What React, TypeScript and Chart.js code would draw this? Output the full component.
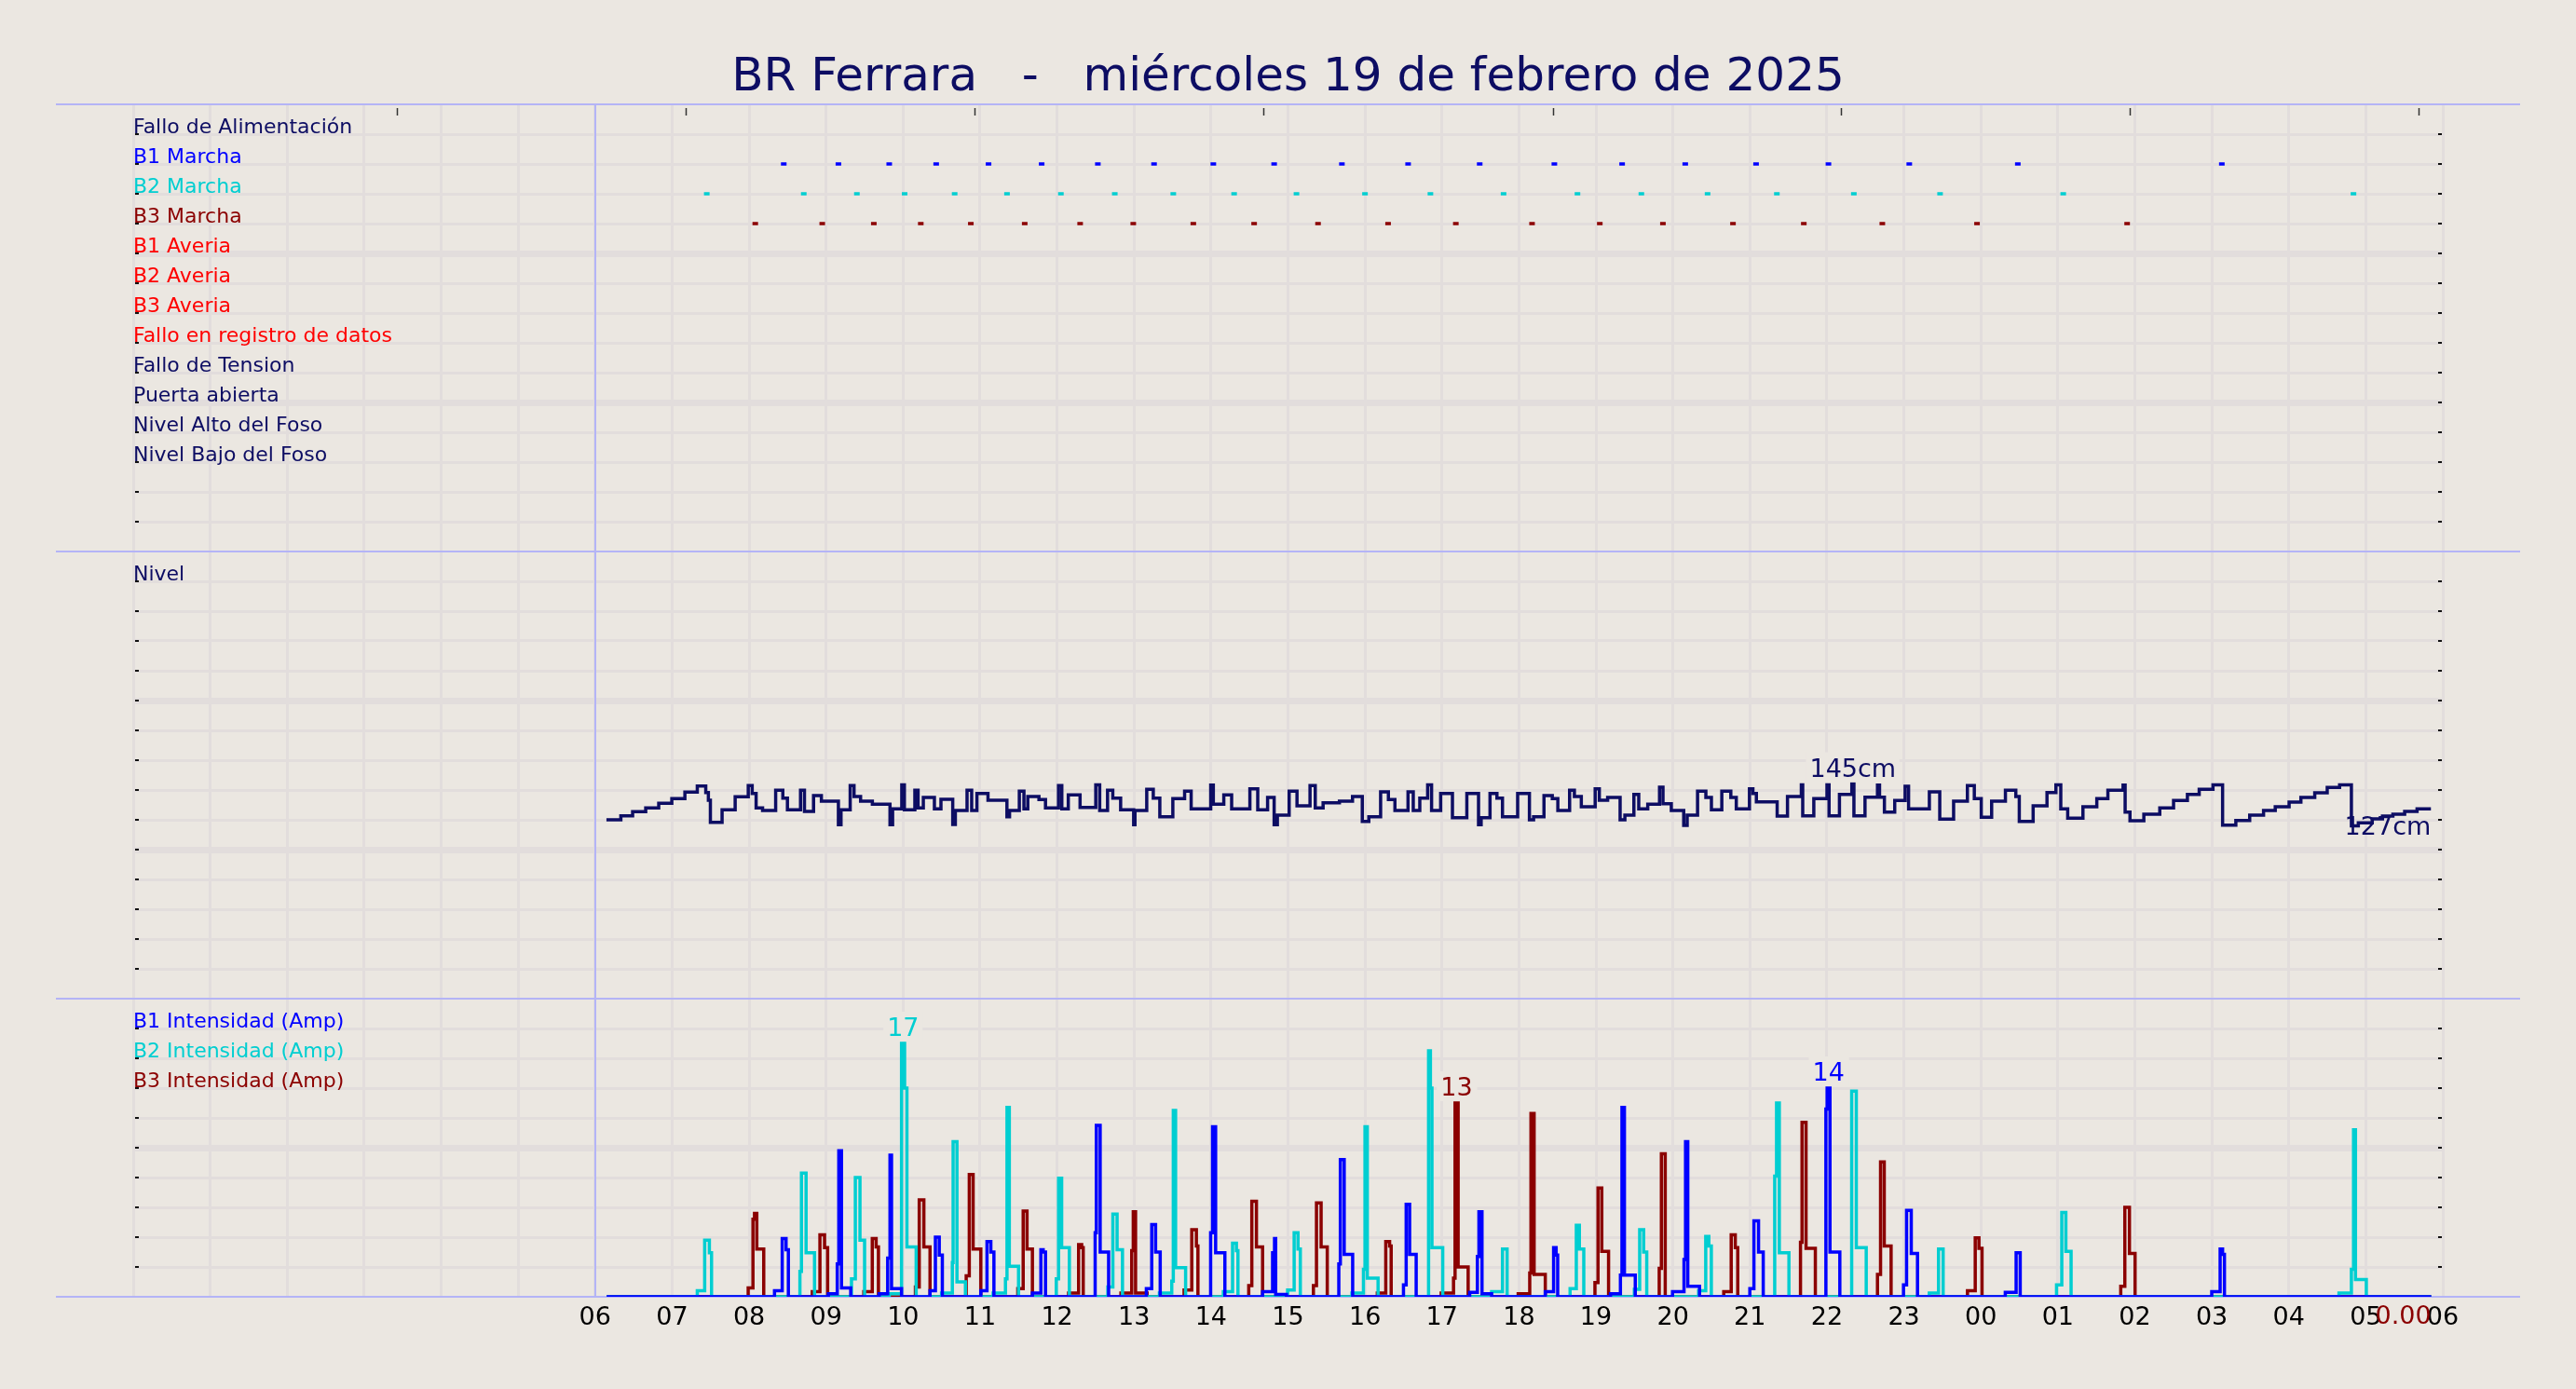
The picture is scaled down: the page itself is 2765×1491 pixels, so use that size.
import React, { useEffect, useRef } from 'react';
import { Chart, registerables } from 'chart.js';

Chart.register(...registerables);
Chart.defaults.font.family = "'DejaVu Sans'";

const TITLE = 'BR Ferrara   -   miércoles 19 de febrero de 2025';

const NAVY = '#0d0d63';
const BLUE = '#0000ff';
const CYAN = '#00ced1';
const DARKRED = '#8b0000';
const RED = '#ff0000';
const BG = '#ebe7e1';
const GRID = '#e2dddc';
const SEP = '#b4b4f6';

const eventLabels = [
  'Fallo de Alimentación', 'B1 Marcha', 'B2 Marcha', 'B3 Marcha', 'B1 Averia', 'B2 Averia',
  'B3 Averia', 'Fallo en registro de datos', 'Fallo de Tension', 'Puerta abierta',
  'Nivel Alto del Foso', 'Nivel Bajo del Foso',
];
const eventColors = [NAVY, BLUE, CYAN, DARKRED, RED, RED, RED, RED, NAVY, NAVY, NAVY, NAVY];
const levelLabel = 'Nivel';
const ampLabels = ['B1 Intensidad (Amp)', 'B2 Intensidad (Amp)', 'B3 Intensidad (Amp)'];
const ampColors = [BLUE, CYAN, DARKRED];

const xTickLabels = ['', '', '', '', '', '', '06', '07', '08', '09', '10', '11', '12', '13', '14', '15',
  '16', '17', '18', '19', '20', '21', '22', '23', '00', '01', '02', '03', '04', '05', '06'];
const topTickHours = [3.43, 7.18, 10.93, 14.68, 18.44, 22.18, 25.93, 29.68];
const dayStartHour = 6;

const LEVEL_MIN = 52.8;
const LEVEL_MAX = 244.8;
const AMP_MAX = 20;

const b1Marcha = [8.45, 9.16, 9.82, 10.43, 11.11, 11.80, 12.53, 13.26, 14.03, 14.82, 15.70, 16.56, 17.49, 18.46, 19.34, 20.16, 21.08, 22.02, 23.07, 24.48, 27.13];
const b2Marcha = [7.45, 8.71, 9.40, 10.02, 10.67, 11.35, 12.05, 12.75, 13.51, 14.30, 15.11, 16.00, 16.85, 17.80, 18.76, 19.59, 20.45, 21.35, 22.35, 23.47, 25.07, 28.84];
const b3Marcha = [8.08, 8.95, 9.62, 10.23, 10.88, 11.58, 12.30, 12.99, 13.77, 14.56, 15.39, 16.30, 17.18, 18.17, 19.05, 19.87, 20.78, 21.70, 22.72, 23.95, 25.90];

const levelData: [number, number][] = [
  [6.147, 129.6], [6.334, 131.3], [6.487, 133.1], [6.657, 134.7], [6.826, 136.7], [6.996, 138.7], [7.166, 141.5], [7.327, 144.1],
  [7.437, 141.3], [7.471, 138.0], [7.497, 128.5], [7.649, 133.9], [7.819, 139.5], [7.989, 144.3], [8.040, 140.9], [8.091, 134.7],
  [8.175, 133.6], [8.345, 142.3], [8.438, 138.9], [8.498, 133.9], [8.668, 142.3], [8.719, 133.2], [8.837, 140.0], [8.939, 137.6],
  [9.160, 127.5], [9.194, 133.9], [9.313, 144.3], [9.363, 139.6], [9.448, 137.6], [9.601, 136.3], [9.830, 127.5], [9.864, 134.3],
  [9.983, 144.6], [10.017, 133.9], [10.153, 142.3], [10.195, 134.7], [10.263, 139.2], [10.407, 134.3], [10.492, 138.4], [10.645, 127.6],
  [10.679, 133.6], [10.831, 142.3], [10.891, 133.6], [10.959, 140.9], [11.103, 138.0], [11.349, 130.9], [11.383, 133.6], [11.510, 141.9],
  [11.570, 134.3], [11.620, 139.6], [11.765, 138.3], [11.850, 134.7], [12.019, 144.3], [12.062, 134.3], [12.146, 140.3], [12.299, 134.9],
  [12.503, 144.6], [12.554, 133.6], [12.656, 142.3], [12.724, 138.9], [12.826, 133.9], [12.995, 127.5], [13.012, 133.6], [13.165, 142.7],
  [13.250, 138.9], [13.335, 130.9], [13.504, 138.7], [13.657, 141.9], [13.742, 134.3], [13.996, 144.5], [14.030, 136.3], [14.166, 140.3],
  [14.268, 134.3], [14.505, 142.9], [14.607, 133.9], [14.735, 139.2], [14.820, 127.5], [14.862, 131.6], [15.015, 141.9], [15.117, 135.6],
  [15.286, 144.3], [15.354, 134.7], [15.456, 136.9], [15.668, 137.6], [15.838, 139.6], [15.965, 128.9], [16.050, 130.9], [16.203, 141.6],
  [16.304, 138.3], [16.389, 133.6], [16.559, 141.6], [16.627, 133.6], [16.712, 138.9], [16.814, 144.6], [16.865, 133.6], [16.983, 140.9],
  [17.136, 130.5], [17.323, 140.9], [17.475, 127.5], [17.509, 130.5], [17.624, 140.9], [17.714, 138.9], [17.786, 130.9], [17.983, 140.9],
  [18.136, 129.6], [18.190, 130.9], [18.325, 140.0], [18.433, 138.7], [18.505, 133.6], [18.658, 142.3], [18.720, 139.6], [18.810, 135.2],
  [18.990, 142.9], [19.044, 138.0], [19.152, 139.2], [19.314, 129.6], [19.376, 131.6], [19.493, 140.5], [19.556, 134.3], [19.673, 136.3],
  [19.826, 143.6], [19.871, 136.5], [19.979, 133.6], [20.140, 127.2], [20.185, 131.6], [20.320, 141.9], [20.428, 139.2], [20.500, 133.9],
  [20.635, 141.9], [20.752, 139.2], [20.823, 134.3], [20.994, 142.9], [21.039, 140.9], [21.084, 137.3], [21.354, 131.2], [21.488, 139.6],
  [21.668, 144.6], [21.686, 131.3], [21.830, 138.7], [22.001, 144.6], [22.028, 131.3], [22.163, 140.5], [22.324, 145.0], [22.351, 131.3],
  [22.495, 139.3], [22.657, 144.5], [22.684, 139.3], [22.747, 132.9], [22.881, 137.9], [23.016, 144.0], [23.061, 134.3], [23.331, 141.6],
  [23.466, 129.9], [23.646, 137.6], [23.825, 144.3], [23.915, 138.7], [24.005, 130.7], [24.140, 137.6], [24.319, 142.3], [24.454, 139.6],
  [24.499, 128.9], [24.679, 135.6], [24.859, 141.3], [24.975, 144.6], [25.038, 134.3], [25.128, 130.3], [25.326, 135.2], [25.506, 138.7],
  [25.650, 142.3], [25.847, 144.5], [25.874, 132.9], [25.937, 129.2], [26.117, 132.0], [26.324, 134.7], [26.503, 137.9], [26.683, 140.5],
  [26.836, 142.7], [27.015, 144.6], [27.140, 127.3], [27.312, 129.3], [27.492, 131.6], [27.672, 133.6], [27.824, 135.2], [28.004, 137.2],
  [28.157, 139.2], [28.337, 141.2], [28.499, 143.5], [28.660, 144.6], [28.813, 127.0], [28.903, 128.3], [29.083, 130.0], [29.217, 131.2],
  [29.352, 132.0], [29.505, 133.2], [29.666, 134.3], [29.846, 134.3],
];

const b1Amp: [number, number][] = [
  [6.15, 0],
  [8.33, 0.4], [8.43, 3.9], [8.48, 3.15], [8.51, 0],
  [9.03, 0.2], [9.145, 2.2], [9.165, 9.8], [9.2, 0.6], [9.32, 0],
  [9.69, 0.2], [9.80, 2.6], [9.83, 9.5], [9.85, 0.55], [9.98, 0],
  [10.35, 0.4], [10.42, 4.0], [10.47, 2.8], [10.51, 0],
  [11.01, 0.4], [11.09, 3.7], [11.14, 3.0], [11.18, 0],
  [11.68, 0.25], [11.79, 3.15], [11.82, 3.0], [11.85, 0],
  [12.495, 4.3], [12.51, 11.5], [12.56, 3.0], [12.67, 0],
  [13.16, 0.55], [13.23, 4.85], [13.28, 3.0], [13.34, 0],
  [13.995, 4.3], [14.02, 11.4], [14.06, 2.95], [14.18, 0],
  [14.67, 0.35], [14.80, 2.95], [14.825, 3.9], [14.84, 0.15], [14.98, 0],
  [15.66, 2.2], [15.68, 9.2], [15.73, 2.85], [15.84, 0],
  [16.50, 0.8], [16.535, 6.2], [16.58, 2.85], [16.665, 0],
  [17.36, 0.3], [17.46, 2.7], [17.48, 5.7], [17.52, 0.2], [17.645, 0],
  [18.342, 0.35], [18.45, 3.3], [18.483, 2.8], [18.503, 0],
  [19.189, 0.2], [19.318, 1.45], [19.338, 12.7], [19.37, 1.45], [19.511, 0],
  [19.995, 0.35], [20.144, 2.5], [20.164, 10.4], [20.193, 0.7], [20.346, 0],
  [20.999, 0.55], [21.052, 5.1], [21.112, 3.0], [21.173, 0],
  [21.987, 12.6], [22.003, 14.0], [22.04, 3.0], [22.168, 0],
  [22.995, 0.8], [23.035, 5.8], [23.096, 2.9], [23.177, 0],
  [24.317, 0.3], [24.458, 2.95], [24.511, 0],
  [26.999, 0.35], [27.108, 3.2], [27.14, 2.85], [27.164, 0],
  [29.85, 0],
];

const b2Amp: [number, number][] = [
  [6.15, 0],
  [7.327, 0.4], [7.423, 3.8], [7.484, 2.95], [7.512, 0],
  [8.66, 1.7], [8.68, 8.3], [8.74, 2.95], [8.85, 0],
  [9.33, 1.2], [9.38, 8.0], [9.44, 3.8], [9.50, 0],
  [9.82, 0.2], [9.98, 17.0], [10.02, 14.0], [10.05, 3.35], [10.17, 0],
  [10.50, 0.25], [10.64, 2.3], [10.65, 10.4], [10.70, 1.0], [10.81, 0],
  [11.17, 0.25], [11.33, 1.2], [11.35, 12.7], [11.38, 2.05], [11.50, 0],
  [11.99, 1.2], [12.02, 7.95], [12.06, 3.3], [12.16, 0],
  [12.66, 0.65], [12.725, 5.55], [12.78, 3.15], [12.85, 0],
  [13.33, 0.25], [13.49, 1.05], [13.51, 12.5], [13.54, 1.95], [13.67, 0],
  [14.16, 0.35], [14.28, 3.6], [14.33, 3.1], [14.35, 0],
  [14.995, 0.45], [15.08, 4.3], [15.13, 3.2], [15.16, 0],
  [15.83, 0.25], [15.98, 1.85], [16.00, 11.4], [16.03, 1.25], [16.17, 0],
  [16.826, 16.5], [16.85, 14.0], [16.87, 3.3], [17.01, 0],
  [17.645, 0.35], [17.786, 3.2], [17.846, 0],
  [18.664, 0.55], [18.745, 4.8], [18.785, 3.2], [18.842, 0],
  [19.499, 0.5], [19.568, 4.5], [19.62, 3.0], [19.66, 0],
  [20.334, 0.4], [20.426, 4.05], [20.467, 3.4], [20.499, 0],
  [21.322, 8.1], [21.346, 13.0], [21.382, 2.95], [21.507, 0],
  [22.322, 13.8], [22.382, 3.3], [22.511, 0],
  [23.33, 0.25], [23.45, 3.2], [23.51, 0],
  [24.983, 0.8], [25.051, 5.65], [25.104, 3.05], [25.172, 0],
  [28.652, 0.25], [28.813, 1.85], [28.841, 11.2], [28.866, 1.15], [29.007, 0],
  [29.85, 0],
];

const b3Amp: [number, number][] = [
  [6.15, 0],
  [7.988, 0.6], [8.05, 5.2], [8.07, 5.6], [8.10, 3.2], [8.19, 0],
  [8.82, 0.35], [8.92, 4.15], [8.98, 3.3], [9.02, 0],
  [9.49, 0.35], [9.60, 3.9], [9.65, 3.35], [9.68, 0],
  [10.16, 0.65], [10.21, 6.5], [10.27, 3.35], [10.35, 0],
  [10.82, 1.4], [10.86, 8.2], [10.91, 3.2], [11.01, 0],
  [11.49, 0.55], [11.56, 5.75], [11.61, 3.2], [11.68, 0],
  [12.15, 0.25], [12.28, 3.5], [12.32, 3.3], [12.34, 0],
  [12.83, 0.25], [12.97, 3.1], [12.99, 5.7], [13.02, 0.25], [13.17, 0],
  [13.65, 0.45], [13.75, 4.5], [13.81, 3.4], [13.83, 0],
  [14.49, 0.75], [14.53, 6.4], [14.59, 3.35], [14.67, 0],
  [15.33, 0.75], [15.37, 6.3], [15.43, 3.35], [15.51, 0],
  [16.16, 0.25], [16.27, 3.7], [16.32, 3.4], [16.34, 0],
  [16.99, 0.25], [17.15, 1.25], [17.17, 13.0], [17.21, 2.0], [17.34, 0],
  [17.99, 0.2], [18.14, 1.6], [18.156, 12.3], [18.197, 1.5], [18.342, 0],
  [18.987, 0.95], [19.027, 7.3], [19.076, 3.05], [19.164, 0],
  [19.822, 1.9], [19.85, 9.6], [19.90, 0],
  [20.66, 0.35], [20.757, 4.15], [20.81, 3.3], [20.842, 0],
  [21.657, 3.65], [21.677, 11.7], [21.729, 3.25], [21.85, 0],
  [22.657, 1.5], [22.697, 9.05], [22.745, 3.4], [22.834, 0],
  [23.826, 0.4], [23.927, 3.95], [23.975, 3.25], [24.015, 0],
  [25.817, 0.7], [25.87, 6.0], [25.93, 2.9], [26.003, 0],
  [29.85, 0],
];

const ampSeries = [b1Amp, b2Amp, b3Amp];

const gridWidthAt = (k: number, n: number) => (k <= 0 || k >= n ? 0 : k % 5 === 0 ? 7 : 3);

function drawText(ctx: CanvasRenderingContext2D, text: string, x: number, y: number,
  align: CanvasTextAlign, baseline: CanvasTextBaseline, color: string, size: number, boxed: boolean) {
  ctx.font = `${size}px 'DejaVu Sans'`;
  ctx.textAlign = align;
  ctx.textBaseline = baseline;
  if (boxed) {
    const m = ctx.measureText(text);
    const l = x - m.actualBoundingBoxLeft;
    const r = x + m.actualBoundingBoxRight;
    const t = y - m.actualBoundingBoxAscent;
    const b = y + m.actualBoundingBoxDescent;
    ctx.fillStyle = BG;
    ctx.fillRect(l - 6, t - 6, r - l + 12, b - t + 12);
  }
  ctx.fillStyle = color;
  ctx.fillText(text, x, y);
}

const decoPlugin = {
  id: 'deco',
  beforeDraw(chart: any) {
    const { ctx, width, height } = chart;
    ctx.save();
    ctx.fillStyle = BG;
    ctx.fillRect(0, 0, width, height);
    ctx.restore();
  },
  beforeDatasetsDraw(chart: any) {
    const { ctx, chartArea: ca, scales } = chart;
    ctx.save();
    const xs = Math.round(scales.x.getPixelForValue(dayStartHour));
    ctx.strokeStyle = SEP;
    ctx.lineWidth = 2;
    ctx.beginPath();
    ctx.moveTo(xs, ca.top);
    ctx.lineTo(xs, ca.bottom);
    ctx.stroke();
    const ys = [scales.yEv.top, scales.yLev.top, scales.yAmp.top, scales.yAmp.bottom];
    ys.forEach((y: number) => {
      ctx.beginPath();
      ctx.moveTo(ca.left - 83, Math.round(y));
      ctx.lineTo(ca.right + 83, Math.round(y));
      ctx.stroke();
    });
    ctx.fillStyle = '#111';
    ['yEv', 'yLev', 'yAmp'].forEach((id) => {
      const s = scales[id];
      const n = s.ticks.length - 1;
      s.ticks.forEach((_t: any, i: number) => {
        if (i === 0 || i === n) return;
        const y = Math.round(s.getPixelForTick(i));
        ctx.fillRect(ca.left + 2, y - 1, 4, 2);
        ctx.fillRect(ca.right - 5, y - 1, 4, 2);
      });
    });
    ctx.strokeStyle = '#333';
    ctx.lineWidth = 1.5;
    topTickHours.forEach((h) => {
      const x = Math.round(scales.x.getPixelForValue(h)) + 0.5;
      ctx.beginPath();
      ctx.moveTo(x, ca.top + 4);
      ctx.lineTo(x, ca.top + 12);
      ctx.stroke();
    });
    ctx.restore();
  },
  afterDatasetsDraw(chart: any) {
    const { ctx, scales, width } = chart;
    ctx.save();
    drawText(ctx, TITLE, width / 2, 97, 'center', 'alphabetic', NAVY, 50, false);
    const x = scales.x;
    let iMax = 0; let iMin = 0;
    levelData.forEach((p, i) => {
      if (p[1] > levelData[iMax][1]) iMax = i;
      if (p[1] < levelData[iMin][1]) iMin = i;
    });
    const maxCx = (levelData[iMax][0] + levelData[Math.min(iMax + 1, levelData.length - 1)][0]) / 2;
    drawText(ctx, `${Math.round(levelData[iMax][1])}cm`, x.getPixelForValue(maxCx),
      scales.yLev.getPixelForValue(levelData[iMax][1]) - 8, 'center', 'alphabetic', NAVY, 27, true);
    const lastLevel = levelData[levelData.length - 1];
    drawText(ctx, `${Math.round(levelData[iMin][1])}cm`, x.getPixelForValue(lastLevel[0]),
      scales.yLev.getPixelForValue(levelData[iMin][1]) + 2, 'right', 'middle', NAVY, 27, false);
    ampSeries.forEach((series, si) => {
      let im = 0;
      series.forEach((p, i) => { if (p[1] > series[im][1]) im = i; });
      const cx = (series[im][0] + series[Math.min(im + 1, series.length - 1)][0]) / 2;
      drawText(ctx, `${Math.round(series[im][1])}`, x.getPixelForValue(cx),
        scales.yAmp.getPixelForValue(series[im][1]) - 8, 'center', 'alphabetic', ampColors[si], 27, true);
    });
    const last = b3Amp[b3Amp.length - 1];
    drawText(ctx, last[1].toFixed(2), x.getPixelForValue(last[0]), scales.yAmp.getPixelForValue(last[1]) + 8,
      'right', 'top', DARKRED, 27, false);
    ctx.restore();
  },
};

function eventDataset(label: string, hours: number[], color: string) {
  const row = eventLabels.indexOf(label) + 1;
  return {
    label,
    data: hours.map((h) => [h, row]),
    yAxisID: 'yEv',
    showLine: false,
    pointStyle: 'line',
    pointRadius: 3,
    pointHoverRadius: 3,
    pointBorderWidth: 3.5,
    pointBorderColor: color,
    borderColor: color,
    backgroundColor: color,
  };
}

function stepDataset(label: string, data: [number, number][], color: string, axis: string) {
  return {
    label,
    data,
    yAxisID: axis,
    stepped: true,
    borderColor: color,
    borderWidth: 3.5,
    pointRadius: 0,
    pointHoverRadius: 0,
    fill: false,
    borderJoinStyle: 'miter',
  };
}

export default function App() {
  const ref = useRef<HTMLCanvasElement | null>(null);
  useEffect(() => {
    document.body.style.margin = '0';
    document.body.style.background = BG;
    const canvas = ref.current;
    if (!canvas) return;
    const evTicks = Array.from({ length: 16 }, (_, i) => i);
    const levStep = (LEVEL_MAX - LEVEL_MIN) / 15;
    const levTicks = Array.from({ length: 16 }, (_, i) => LEVEL_MIN + i * levStep);
    const ampTicks = Array.from({ length: 11 }, (_, i) => i * 2);
    const chart = new Chart(canvas, {
      type: 'line',
      data: {
        datasets: [
          eventDataset('B1 Marcha', b1Marcha, BLUE),
          eventDataset('B2 Marcha', b2Marcha, CYAN),
          eventDataset('B3 Marcha', b3Marcha, DARKRED),
          stepDataset('Nivel', levelData, NAVY, 'yLev'),
          stepDataset('B1 Intensidad (Amp)', b1Amp, BLUE, 'yAmp'),
          stepDataset('B2 Intensidad (Amp)', b2Amp, CYAN, 'yAmp'),
          stepDataset('B3 Intensidad (Amp)', b3Amp, DARKRED, 'yAmp'),
        ] as any,
      },
      options: {
        animation: false,
        responsive: false,
        devicePixelRatio: 1,
        events: [],
        layout: { padding: { left: 133, right: 143, top: 112, bottom: 39 } },
        plugins: { legend: { display: false }, tooltip: { enabled: false }, title: { display: false } },
        scales: {
          x: {
            type: 'linear',
            position: 'bottom',
            min: 0,
            max: 30,
            afterBuildTicks: (s: any) => { s.ticks = xTickLabels.map((_, i) => ({ value: i })); },
            afterFit: (s: any) => { s.height = 60; },
            ticks: {
              autoSkip: false,
              maxRotation: 0,
              padding: 7,
              color: '#000',
              font: { size: 27 },
              callback: (v: any) => xTickLabels[Math.round(Number(v))] ?? '',
            },
            grid: { color: GRID, lineWidth: 3, drawTicks: false },
            border: { display: false },
          },
          yEv: {
            type: 'linear',
            position: 'left',
            stack: 'panels',
            stackWeight: 3,
            weight: 3,
            reverse: true,
            min: 0,
            max: 15,
            afterBuildTicks: (s: any) => { s.ticks = evTicks.map((v) => ({ value: v })); },
            afterFit: (s: any) => { s.width = 10; },
            ticks: {
              mirror: true,
              padding: 0,
              labelOffset: -7,
              autoSkip: false,
              font: { size: 22 },
              color: (c: any) => eventColors[c.tick.value - 1] ?? '#000',
              callback: (v: any) => eventLabels[Number(v) - 1] ?? '',
            },
            grid: { color: GRID, lineWidth: (c: any) => gridWidthAt(c.tick.value, 15), drawTicks: false },
            border: { display: false },
          },
          yLev: {
            type: 'linear',
            position: 'left',
            stack: 'panels',
            stackWeight: 3,
            weight: 2,
            min: LEVEL_MIN,
            max: LEVEL_MAX,
            afterBuildTicks: (s: any) => { s.ticks = levTicks.map((v) => ({ value: v })); },
            afterFit: (s: any) => { s.width = 10; },
            ticks: {
              mirror: true,
              padding: 0,
              labelOffset: -7,
              autoSkip: false,
              font: { size: 22 },
              color: NAVY,
              callback: (_v: any, i: number) => (i === 14 ? levelLabel : ''),
            },
            grid: { color: GRID, lineWidth: (c: any) => gridWidthAt(15 - c.index, 15), drawTicks: false },
            border: { display: false },
          },
          yAmp: {
            type: 'linear',
            position: 'left',
            stack: 'panels',
            stackWeight: 2,
            weight: 1,
            min: 0,
            max: AMP_MAX,
            afterBuildTicks: (s: any) => { s.ticks = ampTicks.map((v) => ({ value: v })); },
            afterFit: (s: any) => { s.width = 10; },
            ticks: {
              mirror: true,
              padding: 0,
              labelOffset: -7,
              autoSkip: false,
              font: { size: 22 },
              color: (c: any) => ampColors[10 - c.tick.value / 2 - 1] ?? '#000',
              callback: (v: any) => ampLabels[10 - Number(v) / 2 - 1] ?? '',
            },
            grid: { color: GRID, lineWidth: (c: any) => gridWidthAt(10 - c.tick.value / 2, 10), drawTicks: false },
            border: { display: false },
          },
        },
      } as any,
      plugins: [decoPlugin as any],
    });
    return () => chart.destroy();
  }, []);
  return (
    <div style={{ position: 'fixed', left: 0, top: 0, width: 2765, height: 1491, background: BG }}>
      <canvas ref={ref} width={2765} height={1491} style={{ display: 'block', width: 2765, height: 1491 }} />
    </div>
  );
}
